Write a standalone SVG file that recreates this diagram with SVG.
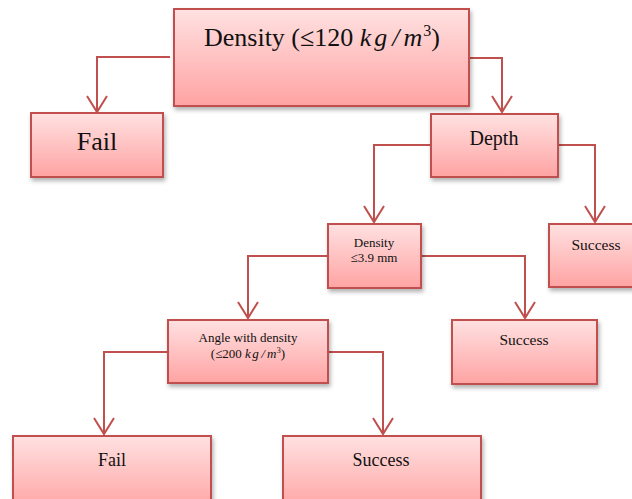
<svg xmlns="http://www.w3.org/2000/svg" width="632" height="499" viewBox="0 0 632 499">
<defs>
<linearGradient id="g" x1="0" y1="0" x2="0" y2="1">
<stop offset="0" stop-color="#FFE1E1"/>
<stop offset="1" stop-color="#FFA3A3"/>
</linearGradient>
<filter id="sh" x="-10%" y="-10%" width="130%" height="140%">
<feDropShadow dx="1.5" dy="3" stdDeviation="2" flood-color="#000" flood-opacity="0.3"/>
</filter>
<marker id="ah" markerUnits="userSpaceOnUse" markerWidth="20" markerHeight="24" viewBox="-17 -12 19 24" refX="0" refY="0" orient="auto">
<path d="M-16,-10 L0,0 L-16,10" fill="none" stroke="#C0504D" stroke-width="2"/>
</marker>
</defs>
<style>
.box{fill:url(#g);stroke:#C0504D;stroke-width:2;filter:url(#sh)}
.c{fill:none;stroke:#C0504D;stroke-width:2;marker-end:url(#ah)}
text{font-family:"Liberation Serif","Times New Roman",serif;fill:#111;text-anchor:middle}
.m{font-style:italic}
</style>
<g id="connectors">
<path class="c" d="M170,57 H97 V112"/>
<path class="c" d="M469,58 H502 V112"/>
<path class="c" d="M431,145 H374 V222"/>
<path class="c" d="M558,145 H595 V222"/>
<path class="c" d="M328,256 H248 V318"/>
<path class="c" d="M421,256 H525 V318"/>
<path class="c" d="M168,352 H104 V434"/>
<path class="c" d="M328,352 H383 V434"/>
</g>
<g id="n-density-root">
<rect class="box" x="174" y="9" width="295" height="97"/>
<text x="322" y="46" font-size="26">Density (≤120 <tspan class="m" letter-spacing="3">kg</tspan><tspan class="m" dx="2" letter-spacing="4">/</tspan><tspan class="m">m</tspan><tspan font-size="16" dy="-10" dx="1">3</tspan><tspan dy="10">)</tspan></text>
</g>
<g id="n-fail-1">
<rect class="box" x="31" y="113" width="132" height="64"/>
<text x="97" y="150" font-size="26">Fail</text>
</g>
<g id="n-depth">
<rect class="box" x="431" y="114" width="127" height="63"/>
<text x="494" y="145" font-size="20">Depth</text>
</g>
<g id="n-success-1">
<rect class="box" x="549" y="224" width="95" height="63"/>
<text x="596" y="250" font-size="15.5">Success</text>
</g>
<g id="n-density-2">
<rect class="box" x="328" y="224" width="93" height="64"/>
<text x="374" y="247" font-size="13">Density</text>
<text x="374" y="262" font-size="13">≤3.9 mm</text>
</g>
<g id="n-success-2">
<rect class="box" x="452" y="320" width="145" height="64"/>
<text x="524" y="345" font-size="15.5">Success</text>
</g>
<g id="n-angle">
<rect class="box" x="168" y="320" width="160" height="63"/>
<text x="248" y="342" font-size="13">Angle with density</text>
<text x="248" y="358" font-size="13">(≤200 <tspan class="m" letter-spacing="1.5">kg</tspan><tspan class="m" dx="1" letter-spacing="2">/</tspan><tspan class="m">m</tspan><tspan font-size="8" dy="-5" dx="0.5">3</tspan><tspan dy="5">)</tspan></text>
</g>
<g id="n-fail-2">
<rect class="box" x="13" y="436" width="198" height="74"/>
<text x="112" y="466" font-size="18">Fail</text>
</g>
<g id="n-success-3">
<rect class="box" x="283" y="436" width="198" height="74"/>
<text x="381" y="466" font-size="18">Success</text>
</g>
</svg>
